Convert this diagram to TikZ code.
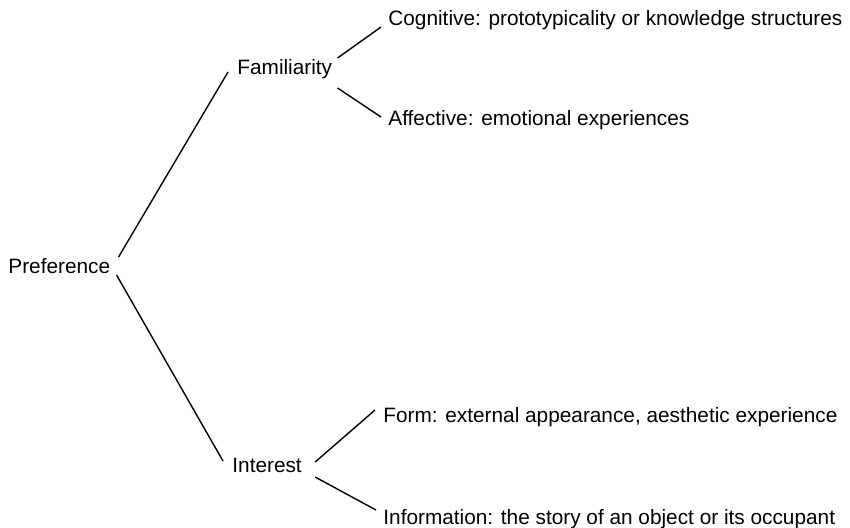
\documentclass[tikz,border=0pt]{standalone}
\usepackage{fontspec}
\setmainfont{Liberation Sans}
\usepackage{tikz}
\usetikzlibrary{positioning}

\begin{document}
\begin{tikzpicture}[
  x=0.5pt, y=0.5pt,
  lbl/.style={anchor=base west, inner sep=0pt, font=\fontsize{10.4}{12}\selectfont},
  branch/.style={draw, line width=0.7pt}
]
  \useasboundingbox (0,0) rectangle (850,-527);

  \node[lbl] (pref) at (8, -273)   {Preference};
  \node[lbl] (fam)  at (237, -74)  {Familiarity};
  \node[lbl] (int)  at (232, -472) {Interest};

  \node[lbl] (cog)  at (388, -25)  {Cognitive: prototypicality or knowledge structures};
  \node[lbl] (aff)  at (388, -125) {Affective: emotional experiences};
  \node[lbl] (form) at (383, -422) {Form: external appearance, aesthetic experience};
  \node[lbl] (info) at (383, -524) {Information: the story of an object or its occupant};

  \draw[branch] ([xshift=4pt, yshift=8pt]pref.base east) -- ([xshift=-4.5pt, yshift=1pt]fam.base west);
  \draw[branch] ([xshift=3pt, yshift=-1pt]pref.base east) -- ([xshift=-4.5pt, yshift=5.5pt]int.base west);

  \draw[branch] ([xshift=2.5pt, yshift=8pt]fam.base east) -- ([xshift=-3.5pt, yshift=-1pt]cog.base west);
  \draw[branch] ([xshift=2.5pt, yshift=-7pt]fam.base east) -- ([xshift=-3.5pt, yshift=4pt]aff.base west);

  \draw[branch] ([xshift=6.5pt, yshift=5pt]int.base east) -- ([xshift=-4pt, yshift=6pt]form.base west);
  \draw[branch] ([xshift=6.5pt, yshift=-2.5pt]int.base east) -- ([xshift=-3.5pt, yshift=7pt]info.base west);
\end{tikzpicture}
\end{document}
